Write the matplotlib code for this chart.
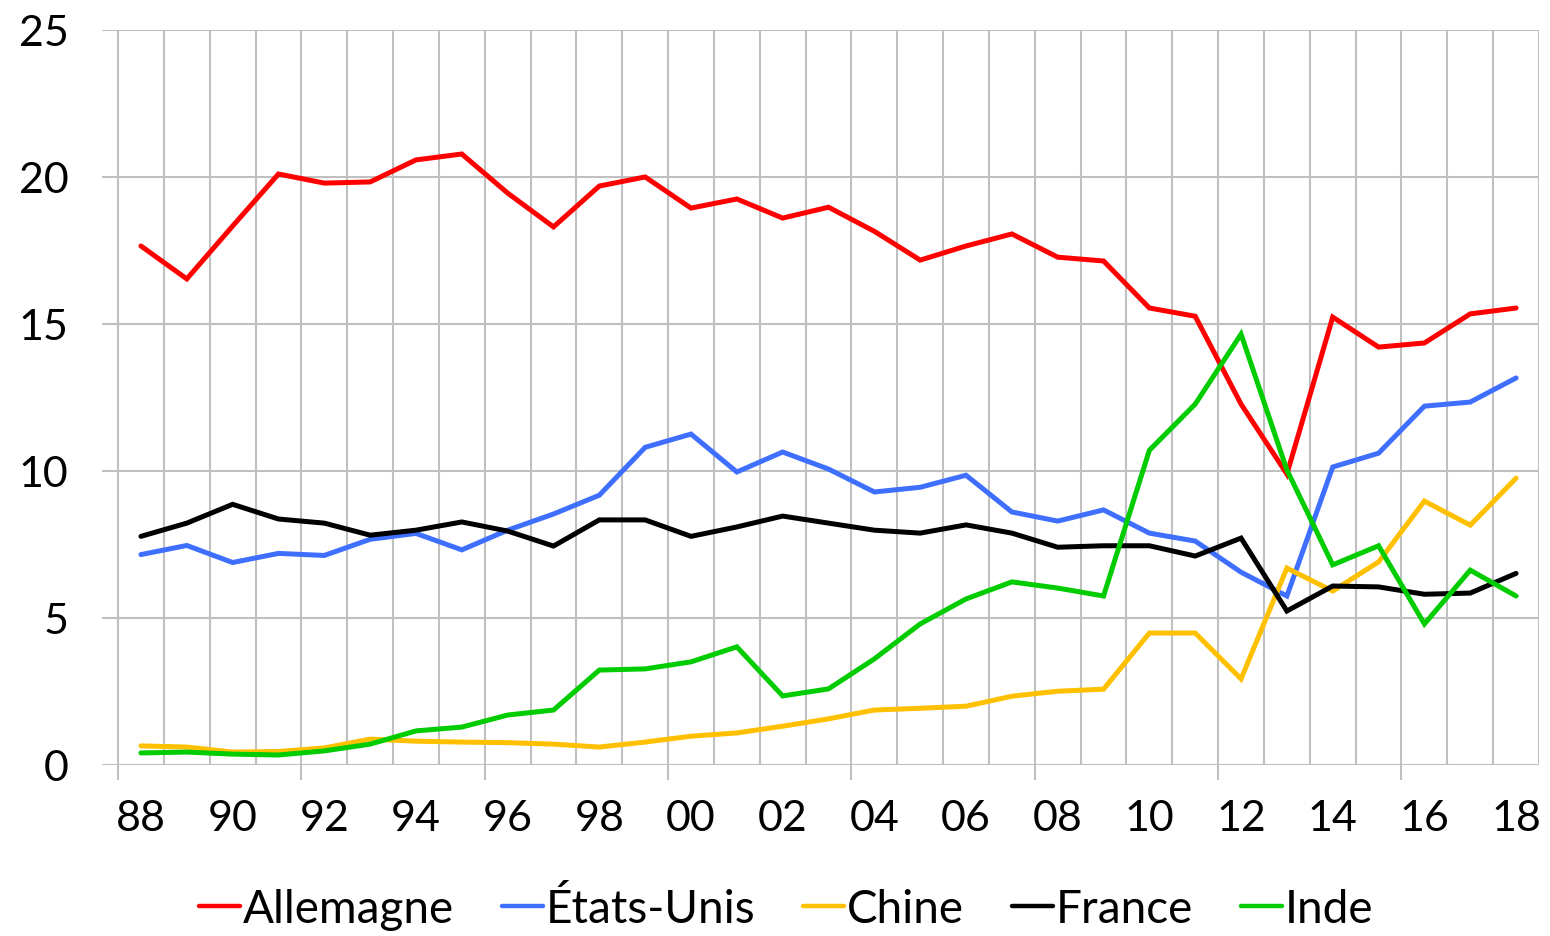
import matplotlib
matplotlib.use("Agg")
import matplotlib.pyplot as plt
import numpy as np

years = ["88", "89", "90", "91", "92", "93", "94", "95", "96", "97",
         "98", "99", "00", "01", "02", "03", "04", "05", "06", "07",
         "08", "09", "10", "11", "12", "13", "14", "15", "16", "17", "18"]

allemagne = [17.65, 16.53, 18.33, 20.1, 19.79, 19.83, 20.58, 20.78, 19.45, 18.3,
             19.69, 20.0, 18.94, 19.25, 18.6, 18.97, 18.15, 17.17, 17.65, 18.06,
             17.27, 17.14, 15.54, 15.26, 12.27, 9.89, 15.23, 14.21, 14.35, 15.34, 15.54]
etats_unis = [7.15, 7.46, 6.88, 7.19, 7.12, 7.67, 7.87, 7.31, 7.98, 8.53,
              9.17, 10.8, 11.25, 9.96, 10.64, 10.06, 9.28, 9.44, 9.85, 8.6,
              8.29, 8.67, 7.88, 7.61, 6.55, 5.74, 10.13, 10.6, 12.2, 12.34, 13.16]
chine = [0.64, 0.6, 0.43, 0.45, 0.57, 0.87, 0.8, 0.77, 0.75, 0.7,
         0.6, 0.77, 0.97, 1.08, 1.31, 1.56, 1.86, 1.92, 1.99, 2.33,
         2.5, 2.57, 4.48, 4.48, 2.92, 6.69, 5.91, 6.9, 8.97, 8.15, 9.75]
france = [7.77, 8.22, 8.86, 8.36, 8.22, 7.81, 7.98, 8.26, 7.95, 7.44,
          8.33, 8.33, 7.77, 8.09, 8.46, 8.22, 7.98, 7.88, 8.16, 7.88,
          7.4, 7.45, 7.45, 7.1, 7.71, 5.23, 6.08, 6.05, 5.8, 5.84, 6.51]
inde = [0.4, 0.43, 0.36, 0.33, 0.47, 0.7, 1.15, 1.28, 1.69, 1.86,
        3.22, 3.26, 3.5, 4.01, 2.34, 2.58, 3.6, 4.79, 5.64, 6.22,
        6.01, 5.74, 10.7, 12.27, 14.65, 10.03, 6.8, 7.45, 4.79, 6.62, 5.74]

series = [
    ("Allemagne", allemagne, "#FF0000"),
    ("États-Unis", etats_unis, "#3F6FFF"),
    ("Chine", chine, "#FFC000"),
    ("France", france, "#000000"),
    ("Inde", inde, "#00CC00"),
]

plt.rcParams["font.family"] = ["Lato", "DejaVu Sans"]
GRID = "#C0C0C0"
FS = 31

fig = plt.figure(figsize=(15.5, 9.37), dpi=100)
ax = fig.add_axes([102 / 1550, 1 - 765.7 / 937, (1539 - 102) / 1550, (765.7 - 31) / 937])

x = np.arange(len(years))
for name, vals, col in series:
    ax.plot(x, vals, color=col, lw=3.6, label=name, solid_capstyle="round",
            solid_joinstyle="miter", zorder=3)

ax.set_xlim(-0.85, len(years) - 0.5)
ax.set_ylim(0, 25)

# horizontal grid
ax.set_yticks(np.arange(0, 26, 5))
ax.yaxis.grid(True, color=GRID, lw=1.5, zorder=0)
ax.tick_params(axis="y", length=0, pad=24, labelsize=FS)

# vertical grid at category boundaries
for b in np.arange(-0.5, len(years), 1.0):
    ax.axvline(b, color=GRID, lw=1.5, zorder=0)

# tick marks every four categories, labels every two years
ax.set_xticks(np.arange(-0.5, len(years) - 1, 4.0))
ax.set_xticklabels([])
ax.tick_params(axis="x", which="major", length=11, width=1.5, color=GRID, direction="out")
ax.set_xticks(x[::2], minor=True)
ax.set_xticklabels(years[::2], minor=True)
ax.tick_params(axis="x", which="minor", length=0, pad=25, labelsize=FS)

for s in ax.spines.values():
    s.set_visible(False)

leg = fig.legend(loc="center", bbox_to_anchor=(786 / 1550, 1 - 910 / 937), ncol=5,
                 frameon=False, fontsize=33, handlelength=0.9, handletextpad=0.05,
                 columnspacing=1.05)
for h in leg.get_lines():
    h.set_linewidth(3.2)

fig.savefig("out.png", dpi=100)
